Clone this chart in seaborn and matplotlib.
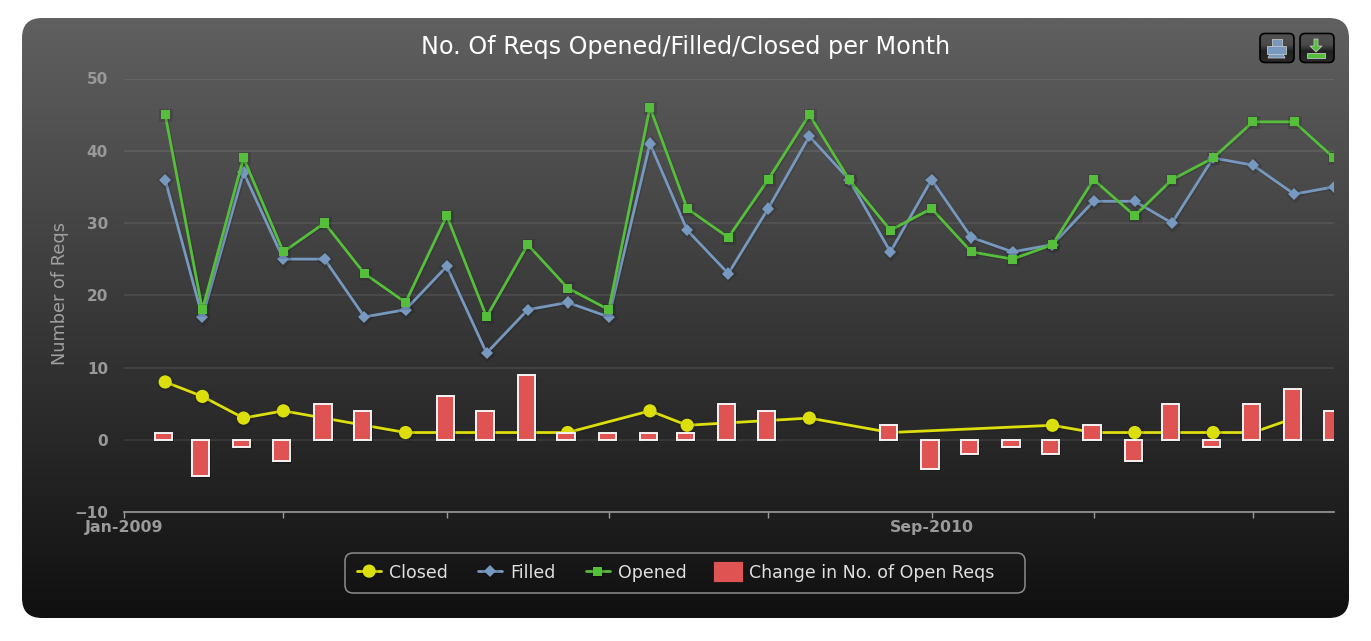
import numpy as np
import pandas as pd
import matplotlib
matplotlib.use('Agg')
import matplotlib.pyplot as plt
import matplotlib.dates as mdates
import matplotlib.patheffects as pe
from matplotlib.colors import LinearSegmentedColormap
from matplotlib.patches import FancyBboxPatch, Patch, Rectangle, Polygon
import seaborn as sns

# Values, one per month from Feb-2009 to Jul-2011
months = pd.date_range('2009-02-01', periods=30, freq='MS')
filled = [36, 17, 37, 25, 25, 17, 18, 24, 12, 18, 19, 17, 41, 29, 23,
          32, 42, 36, 26, 36, 28, 26, 27, 33, 33, 30, 39, 38, 34, 35]
opened = [45, 18, 39, 26, 30, 23, 19, 31, 17, 27, 21, 18, 46, 32, 28,
          36, 45, 36, 29, 32, 26, 25, 27, 36, 31, 36, 39, 44, 44, 39]
closed = [8, 6, 3, 4, None, 2, 1, 1, 1, None, 1, None, 4, 2, None,
          None, 3, None, 1, None, None, None, 2, 1, 1, 1, 1, 1, 3, None]
change = [1, -5, -1, -3, 5, 4, 0, 6, 4, 9, 1, 1, 1, 1, 5,
          4, 0, 0, 2, -4, -2, -1, -2, 2, -3, 5, -1, 5, 7, 4]
tick_dates = pd.date_range('2009-01-01', periods=8, freq='4MS')
tick_labels = ['Jan-2009', '', '', '', '', 'Sep-2010', '', '']
y_ticks = [-10, 0, 10, 20, 30, 40, 50]

YELLOW = '#DDDF0D'
BLUE = '#7798BF'
GREEN = '#55BF3B'
RED = '#DF5353'
W, H = 1371, 641

sns.set_style('white')
plt.rcParams['font.family'] = ['DejaVu Sans']

fig = plt.figure(figsize=(W / 100, H / 100), dpi=100, facecolor='white')

# Rounded card with the grey gradient, in pixel coordinates
bg = fig.add_axes([0, 0, 1, 1])
bg.axis('off')
card = FancyBboxPatch((42, 38), 1287, 560, boxstyle='round,pad=20,rounding_size=20', fc='none', ec='none')
bg.add_patch(card)
img = bg.imshow(np.linspace(0, 1, 256).reshape(-1, 1), extent=(22, 1349, 618, 18), aspect='auto', zorder=1,
                cmap=LinearSegmentedColormap.from_list('card', ['#606060', '#101010']))
img.set_clip_path(card)

btn_cmap = LinearSegmentedColormap.from_list('btn', [(0, '#525252'), (0.4, '#4a4a4a'), (0.62, '#222222'), (1, '#2a2a2a')])


def button(x0):
    # export buttons at top right of the card
    box = FancyBboxPatch((x0 + 5, 38.5), 24, 19, boxstyle='round,pad=5,rounding_size=5', fc='none', ec='black', lw=1.2, zorder=3.2)
    bg.add_patch(box)
    fill = bg.imshow(np.linspace(0, 1, 64).reshape(-1, 1), extent=(x0, x0 + 34, 62.5, 33.5), aspect='auto', zorder=3.1, cmap=btn_cmap)
    fill.set_clip_path(box)


button(1260)
button(1300)
icon = dict(ec='#c4c4c4', lw=0.6, zorder=4)
bg.add_patch(Rectangle((1272, 39), 10, 8, fc=BLUE, **icon))
bg.add_patch(Polygon([(1270, 54), (1283, 54), (1285, 58), (1268, 58)], fc=BLUE, **icon))
bg.add_patch(Rectangle((1267, 46), 19, 8, fc=BLUE, **icon))
bg.add_patch(Rectangle((1307, 53), 18, 5, fc=GREEN, **icon))
bg.add_patch(Polygon([(1314, 39), (1318, 39), (1318, 46), (1322, 46), (1316, 52), (1310, 46), (1314, 46)], fc=GREEN, **icon))

# Legend box is drawn on its own because its padding is uneven
bg.add_patch(FancyBboxPatch((353, 561), 664, 24, boxstyle='round,pad=8,rounding_size=8', fc='none', ec='#8c8c8c', lw=1.1, zorder=3))
bg.set_xlim(0, W)
bg.set_ylim(H, 0)

ax = fig.add_axes([124 / W, 1 - 512 / H, (1334 - 124) / W, (512 - 78.5) / H])
ax.patch.set_alpha(0)

df = pd.DataFrame({'x': mdates.date2num(months), 'filled': filled, 'opened': opened,
                   'closed': pd.to_numeric(pd.Series(closed)), 'change': change})

lw = 2.0
shadow = [pe.SimpleLineShadow(offset=(0.6, -0.6), shadow_color='black', alpha=0.12, linewidth=lw + 0.8), pe.Normal()]
sns.lineplot(data=df.dropna(subset=['closed']), x='x', y='closed', color=YELLOW, marker='o', markersize=9.5,
             markeredgewidth=0, linewidth=lw, label='Closed', errorbar=None, ax=ax, zorder=3)
sns.lineplot(data=df, x='x', y='filled', color=BLUE, marker='D', markersize=6.2, markeredgewidth=0,
             linewidth=lw, label='Filled', errorbar=None, ax=ax, zorder=3.1)
sns.lineplot(data=df, x='x', y='opened', color=GREEN, marker='s', markersize=6.5, markeredgewidth=0,
             linewidth=lw, label='Opened', errorbar=None, ax=ax, zorder=3.2)
for line in ax.get_lines():
    line.set_path_effects(shadow)

sns.barplot(data=df[df['change'] != 0], x='x', y='change', native_scale=True, width=0.46, color=RED, saturation=1,
            edgecolor='#f4f4f4', linewidth=1.4, errorbar=None, ax=ax, zorder=4)
for bar in ax.patches:
    bar.set_x(bar.get_x() - 1.2)
    bar.set_path_effects([pe.SimplePatchShadow(offset=(1.5, -1.5), shadow_rgbFace='black', alpha=0.22), pe.Normal()])

ax.set_xlim(mdates.date2num(pd.Timestamp('2009-01-01')), mdates.date2num(pd.Timestamp('2011-07-01')))
ax.set_ylim(-10, 50)
ax.set_xticks(mdates.date2num(tick_dates))
ax.set_xticklabels(tick_labels)
ax.set_yticks(y_ticks)
ax.grid(axis='y', color='white', alpha=0.1, linewidth=1.1)
ax.set_axisbelow(True)
for s in ['top', 'right', 'left']:
    ax.spines[s].set_visible(False)
ax.spines['bottom'].set_color('#9a9a9a')
ax.spines['bottom'].set_linewidth(1.2)
ax.tick_params(axis='x', bottom=True, colors='#9a9a9a', length=4.5, width=1, pad=1, labelsize=11.3)
ax.tick_params(axis='y', left=False, pad=8, labelsize=11, labelcolor='#999999')
for t in ax.get_xticklabels() + ax.get_yticklabels():
    t.set_fontweight('bold')
ax.set_xlabel('')
ax.set_ylabel('Number of Reqs', color='#a0a0a0', fontsize=12.8, va='center')
ax.yaxis.set_label_coords((60 - 124) / 1210, 1 - (293.5 - 78.5) / 433.5)

fig.text(686 / W, 1 - 47 / H, 'No. Of Reqs Opened/Filled/Closed per Month', color='white', fontsize=17.2,
         ha='center', va='center')

handles = list(ax.get_lines()[:3])
handles.append(Patch(facecolor=RED, edgecolor=RED, linewidth=3, joinstyle='round'))
ax.legend(handles, ['Closed', 'Filled', 'Opened', 'Change in No. of Open Reqs'], ncol=4,
          loc='center left', bbox_to_anchor=((357 - 124) / 1210, (512 - 573) / 433.5),
          frameon=False, fontsize=12.5, labelcolor='#e0e0e0', handlelength=1.4, handletextpad=0.45,
          columnspacing=1.73, borderpad=0, borderaxespad=0, handleheight=1.0)

fig.savefig('out.png', dpi=100)
